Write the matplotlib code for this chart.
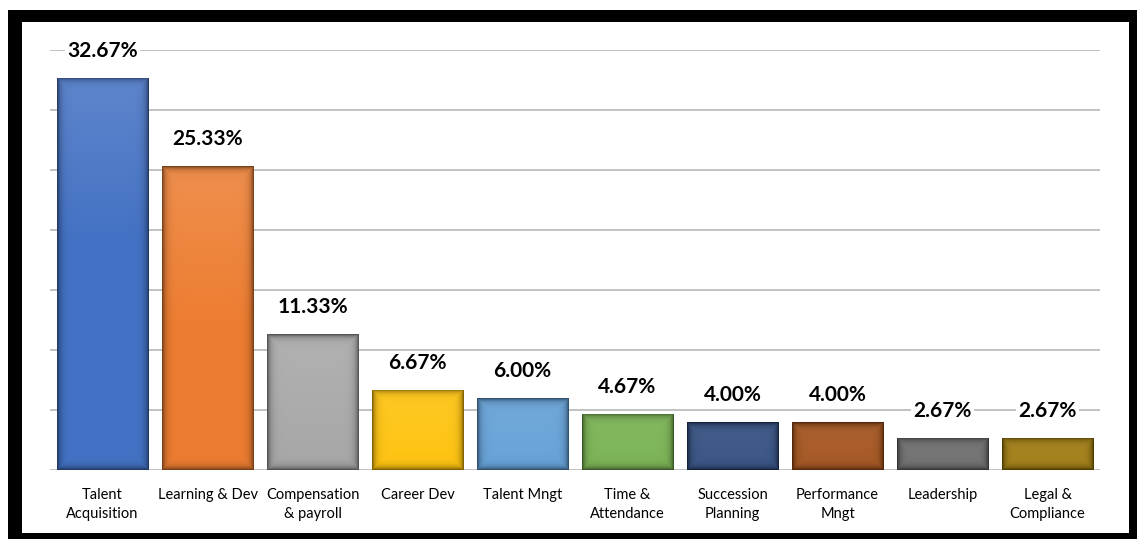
import numpy as np
import matplotlib
matplotlib.use("Agg")
import matplotlib.pyplot as plt
from matplotlib.patches import Rectangle
from matplotlib.colors import to_rgb

# HR software module share (%)
categories = ["Talent\nAcquisition", "Learning & Dev", "Compensation\n& payroll",
              "Career Dev", "Talent Mngt", "Time &\nAttendance", "Succession\nPlanning",
              "Performance\nMngt", "Leadership", "Legal &\nCompliance"]
shares = [32.67, 25.33, 11.33, 6.67, 6.00, 4.67, 4.00, 4.00, 2.67, 2.67]
colors = ["#4472C4", "#ED7D31", "#A5A5A5", "#FFC000", "#5B9BD5",
          "#70AD47", "#264478", "#9E480E", "#636363", "#997300"]

plt.rcParams['font.family'] = ['Lato', 'DejaVu Sans']

W, H = 1137, 539
fig = plt.figure(figsize=(W / 100, H / 100), dpi=100)
fig.patch.set_facecolor("white")


def fx(px):
    return px / W


def fy(py):
    # py measured from the top edge
    return 1 - py / H


ax = fig.add_axes([fx(50), fy(470), fx(1100) - fx(50), fy(50) - fy(470)])
ax.set_xlim(-0.5, len(categories) - 0.5)
ax.set_ylim(0, 35)
ax.set_yticks(np.arange(0, 36, 5))
ax.yaxis.grid(True, color="#BDBDBD", linewidth=1.3)
ax.set_axisbelow(True)
for s in ax.spines.values():
    s.set_visible(False)
ax.tick_params(axis="y", length=0, labelleft=False)
ax.tick_params(axis="x", length=0, pad=13)

x = np.arange(len(categories))
bars = ax.bar(x, shares, width=0.87, color=colors, zorder=2)


def shade_bar(patch, color):
    # bevelled look: soft dark rim, slightly lighter top, drawn as a clipped image
    x0, y0 = patch.get_x(), patch.get_y()
    w, h = patch.get_width(), patch.get_height()
    (px0, py0), (px1, py1) = ax.transData.transform([(x0, y0), (x0 + w, y0 + h)])
    nx, ny = max(int(round(px1 - px0)), 2), max(int(round(py1 - py0)), 2)
    X, Y = np.meshgrid(np.arange(nx) + 0.5, np.arange(ny) + 0.5)
    d = np.minimum.reduce([X, nx - X, Y, ny - Y])
    rim = 0.42 + 0.58 * (1 - np.exp(-d / 3.2))
    base = np.array(to_rgb(color))
    img = base[None, None, :] * rim[..., None]
    # gentle fade from a lighter top to the plain colour lower down
    top = 0.14 * np.clip(1 - Y / 160.0, 0, 1) * (1 - np.exp(-d / 3.2))
    img = img + (1 - img) * top[..., None]
    img = np.clip(img, 0, 1)
    im = ax.imshow(img, extent=[x0, x0 + w, y0, y0 + h], origin="upper",
                   aspect="auto", zorder=3, interpolation="bilinear")
    im.set_clip_path(patch)


for b, c in zip(bars, colors):
    shade_bar(b, c)
ax.set_xlim(-0.5, len(categories) - 0.5)
ax.set_ylim(0, 35)

for xi, v in zip(x, shares):
    ax.annotate(f"{v:.2f}%", (xi, v), xytext=(0, 15), textcoords="offset points",
                ha="center", va="baseline", fontsize=15, fontweight="bold",
                color="black", zorder=5,
                bbox=dict(boxstyle="square,pad=0.12", facecolor="white", edgecolor="none"))

ax.set_xticks(x)
ax.set_xticklabels(categories, fontsize=10.5, color="black", linespacing=1.45, va="top")

# black frame around the chart
frame = [(8, 10, 1137, 22), (8, 10, 22, 539), (1129, 10, 1137, 539), (8, 533, 1137, 539)]
for (l, t, r, b) in frame:
    fig.patches.append(Rectangle((fx(l), fy(b)), fx(r) - fx(l), fy(t) - fy(b),
                                 transform=fig.transFigure, facecolor="black",
                                 edgecolor="none", zorder=10))

fig.savefig("out.png", dpi=100)
